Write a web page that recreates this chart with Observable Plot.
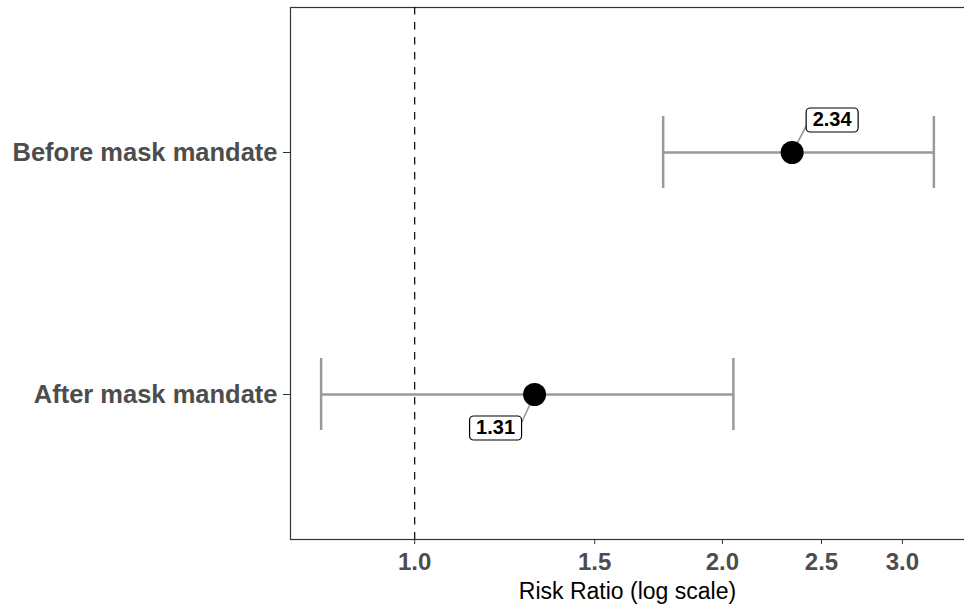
<!DOCTYPE html>
<html>
<head>
<meta charset="utf-8">
<script src="https://cdn.jsdelivr.net/npm/d3@7"></script>
<script src="https://cdn.jsdelivr.net/npm/@observablehq/plot@0.6"></script>
<style>
  html, body { margin: 0; padding: 0; background: #fff; }
  #chart svg { display: block; font-family: "Liberation Sans", Arial, Helvetica, sans-serif; }
</style>
</head>
<body>
<div id="chart"></div>
<script>
// ---- data ----
const groups = ["Before mask mandate", "After mask mandate"];
const riskRatio = [2.34, 1.31];
const ciLower = [1.75, 0.81];
const ciUpper = [3.22, 2.05];
const labelText = ["2.34", "1.31"];
const xTicks = [1.0, 1.5, 2.0, 2.5, 3.0];
const xTitle = "Risk Ratio (log scale)";
const refValue = [1];

// ---- label placement (style only, pixels) ----
const labelDx = [40, -39];
const labelDy = [-32.5, 33.5];
const leaderDx = [15, -13];
const leaderDy = [-28, 28];

const rows = groups.map((g, i) => ({
  group: g, rr: riskRatio[i], lo: ciLower[i], hi: ciUpper[i], label: labelText[i]
}));

// rounded-rectangle symbol for label boxes
const boxW = 52, boxH = 24, boxR = 4;
const roundedBox = {
  draw(ctx) {
    const x0 = -boxW / 2, y0 = -boxH / 2, x1 = boxW / 2, y1 = boxH / 2, r = boxR;
    ctx.moveTo(x0 + r, y0);
    ctx.lineTo(x1 - r, y0);
    ctx.arcTo(x1, y0, x1, y0 + r, r);
    ctx.lineTo(x1, y1 - r);
    ctx.arcTo(x1, y1, x1 - r, y1, r);
    ctx.lineTo(x0 + r, y1);
    ctx.arcTo(x0, y1, x0, y1 - r, r);
    ctx.lineTo(x0, y0 + r);
    ctx.arcTo(x0, y0, x0 + r, y0, r);
    ctx.closePath();
  }
};

const labelMarks = rows.flatMap((row, i) => [
  Plot.vector([row], {
    x: "rr", y: "group", length: 1, rotate: 0, anchor: "start",
    shape: { draw(ctx) { ctx.moveTo(0, 0); ctx.lineTo(leaderDx[i], leaderDy[i]); } },
    stroke: "#999999", strokeWidth: 1.6
  })
]);
const boxMarks = rows.flatMap((row, i) => [
  Plot.dot([row], {
    x: "rr", y: "group", symbol: roundedBox, r: 5,
    dx: labelDx[i], dy: labelDy[i],
    fill: "white", stroke: "black", strokeWidth: 1.2
  }),
  Plot.text([row], {
    x: "rr", y: "group", text: "label",
    dx: labelDx[i], dy: labelDy[i],
    fontSize: 20, fontWeight: "bold", fill: "black"
  })
]);

const chart = Plot.plot({
  width: 964,
  height: 604,
  marginLeft: 290,
  marginRight: 0,
  marginTop: 7,
  marginBottom: 65,
  style: { fontFamily: "Liberation Sans, Arial, Helvetica, sans-serif", background: "white" },
  x: { type: "log", domain: [0.756, 3.45] },
  y: { type: "band", domain: groups, paddingInner: 0.7025, paddingOuter: 0.45 },
  marks: [
    Plot.frame({ stroke: "#333333", strokeWidth: 1.2, insetRight: -3 }),
    Plot.ruleX(refValue, { stroke: "black", strokeWidth: 1.2, strokeDasharray: "7.5,7.5" }),
    Plot.ruleY(rows, { y: "group", x1: "lo", x2: "hi", stroke: "#999999", strokeWidth: 2.5 }),
    Plot.tickX(rows, { x: "lo", y: "group", stroke: "#999999", strokeWidth: 2.5 }),
    Plot.tickX(rows, { x: "hi", y: "group", stroke: "#999999", strokeWidth: 2.5 }),
    ...labelMarks,
    Plot.dot(rows, { x: "rr", y: "group", r: 11.5, fill: "black" }),
    ...boxMarks,
    Plot.axisX({
      ticks: xTicks, tickFormat: d3.format(".1f"), tickSize: 5, tickPadding: 8,
      fontSize: 24, fontWeight: "bold", color: "#4d4d4d", stroke: "#333333", label: null
    }),
    Plot.axisY({
      tickSize: 7, tickPadding: 6, fontSize: 25.5, fontWeight: "bold",
      color: "#4d4d4d", stroke: "#333333", label: null
    }),
    Plot.text([xTitle], {
      frameAnchor: "bottom", text: d => d, dy: 52.6, fontSize: 23, fill: "black", lineAnchor: "middle"
    })
  ]
});
document.getElementById("chart").appendChild(chart);
</script>
</body>
</html>
